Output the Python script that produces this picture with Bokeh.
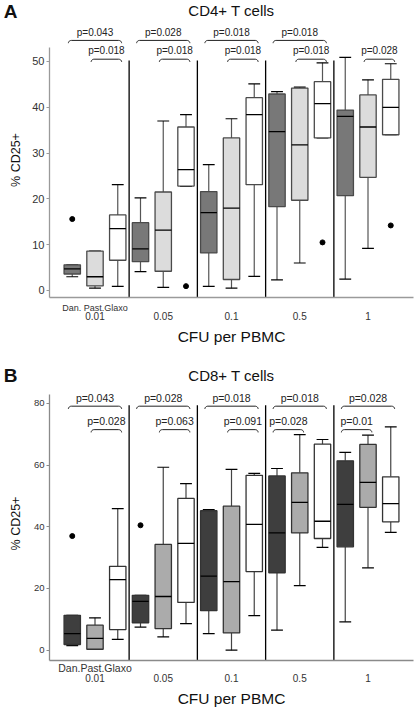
import math
from bokeh.plotting import figure
from bokeh.models import LinearAxis, FixedTicker, Range1d
from bokeh.layouts import column
from bokeh.embed import file_html
from bokeh.resources import INLINE
from bokeh.core.properties import value

FONT = "Liberation Sans"

doses = ["0.01", "0.05", "0.1", "0.5", "1"]
vaccines = ["Dan.", "Past.", "Glaxo"]

# ---- Panel A: CD4+ T cells (order: dose by dose, Dan./Past./Glaxo) ----
cd4_low = [3.0, 0.5, 0.9, 4.1, 0.7, 22.7, 0.9, 0.5, 3.1, 2.3, 6.0, 33.3, 2.5, 9.2, 34.0]
cd4_q1 = [3.6, 1.0, 6.6, 6.3, 4.2, 22.8, 8.2, 2.4, 23.1, 18.3, 19.7, 33.3, 20.7, 24.7, 34.0]
cd4_med = [4.7, 3.0, 13.5, 9.1, 13.2, 26.4, 17.0, 18.0, 38.4, 34.7, 31.8, 40.8, 38.0, 35.7, 40.0]
cd4_q3 = [5.6, 8.6, 16.5, 14.8, 21.5, 35.7, 21.6, 33.3, 42.1, 42.9, 44.2, 45.6, 39.4, 42.7, 46.1]
cd4_high = [5.6, 8.6, 23.1, 20.2, 37.0, 38.4, 27.5, 37.5, 45.1, 43.4, 44.4, 49.7, 50.9, 46.0, 49.5]
cd4_out_box = [0, 5, 11, 14]
cd4_out_val = [15.6, 0.95, 10.5, 14.2]
cd4_br_dose = [0, 0, 1, 1, 2, 2, 3, 3, 4]
cd4_br_from = [0, 1, 0, 1, 0, 1, 0, 1, 1]
cd4_br_to = [2, 2, 2, 2, 2, 2, 2, 2, 2]
cd4_br_upper = [1, 0, 1, 0, 1, 0, 1, 0, 0]
cd4_br_p = ["p=0.043", "p=0.018", "p=0.028", "p=0.018", "p=0.018", "p=0.018",
            "p=0.018", "p=0.018", "p=0.028"]
cd4_yticks = [0, 10, 20, 30, 40, 50]

# ---- Panel B: CD8+ T cells ----
cd8_low = [1.5, 0.3, 3.5, 7.5, 4.3, 8.6, 5.4, 0.0, 11.2, 6.5, 20.9, 33.3, 9.2, 26.7, 38.2]
cd8_q1 = [1.85, 0.3, 6.7, 8.9, 7.0, 15.5, 12.8, 5.6, 25.5, 25.1, 38.0, 36.2, 33.5, 46.3, 41.6]
cd8_med = [5.4, 3.8, 22.9, 15.8, 17.4, 34.6, 24.0, 22.2, 40.8, 38.0, 47.9, 41.8, 47.3, 54.4, 47.5]
cd8_q3 = [11.3, 8.1, 27.2, 17.8, 34.3, 49.2, 45.2, 46.7, 56.7, 56.5, 57.5, 66.8, 61.4, 66.7, 56.2]
cd8_high = [11.3, 10.5, 45.9, 17.8, 59.3, 54.0, 45.6, 58.6, 57.3, 58.9, 69.9, 68.3, 64.1, 69.7, 72.4]
cd8_out_box = [0, 3]
cd8_out_val = [37.0, 40.5]
cd8_br_dose = [0, 0, 1, 1, 2, 2, 3, 3, 4, 4]
cd8_br_from = [0, 1, 0, 1, 0, 1, 0, 0, 0, 0]
cd8_br_to = [2, 2, 2, 2, 2, 2, 2, 1, 2, 1]
cd8_br_upper = [1, 0, 1, 0, 1, 0, 1, 0, 1, 0]
cd8_br_p = ["p=0.043", "p=0.028", "p=0.028", "p=0.063", "p=0.018", "p=0.091",
            "p=0.018", "p=0.028", "p=0.028", "p=0.01"]
cd8_yticks = [0, 20, 40, 60, 80]

W = 416
LEFT = 48
RIGHT = 3


def make_head(letter, title, height, ymid):
    h = figure(width=W, height=height, output_backend="svg", toolbar_location=None,
               x_range=Range1d(-1, 15), y_range=Range1d(0, height),
               x_axis_type=None, y_axis_type=None,
               min_border_left=LEFT, min_border_right=RIGHT, min_border_top=0, min_border_bottom=0)
    h.outline_line_color = None
    la = LinearAxis(ticker=FixedTicker(ticks=[ymid]), major_label_overrides={ymid: letter})
    la.axis_line_color = None
    la.major_tick_line_color = None
    la.minor_tick_line_color = None
    la.major_tick_out = 0
    la.major_tick_in = 0
    la.major_label_standoff = 32
    la.major_label_text_font = FONT
    la.major_label_text_font_size = "19px"
    la.major_label_text_font_style = "bold"
    la.major_label_text_color = "#111111"
    h.add_layout(la, "left")
    h.text(x=[7], y=[ymid], text=[title], text_align="center", text_baseline="middle",
           text_font=value(FONT), text_font_size="15px", text_color="#111111")
    return h


def make_panel(low, q1, med, q3, high, out_box, out_val,
               br_dose, br_from, br_to, br_upper, br_p, yticks, cfg):
    p = figure(width=W, height=cfg["height"], output_backend="svg", toolbar_location=None,
               x_range=Range1d(-1, 15), y_range=Range1d(cfg["ymin"], cfg["ymax"]),
               x_axis_type=None, y_axis_type=None,
               min_border_left=LEFT, min_border_right=RIGHT,
               min_border_top=0, min_border_bottom=cfg["bottom"])
    p.outline_line_color = None

    n = len(med)
    xs = [i for i in range(n)]
    fills = [cfg["fills"][i % 3] for i in range(n)]
    bw, cw, mw = 0.72, 0.52, 0.36

    # whiskers and caps
    p.segment(x0=xs, y0=q3, x1=xs, y1=high, line_color=cfg["whisk"], line_width=1.2)
    p.segment(x0=xs, y0=q1, x1=xs, y1=low, line_color=cfg["whisk"], line_width=1.2)
    p.segment(x0=[x - cw / 2 for x in xs], y0=high, x1=[x + cw / 2 for x in xs], y1=high,
              line_color="black", line_width=1.2)
    p.segment(x0=[x - cw / 2 for x in xs], y0=low, x1=[x + cw / 2 for x in xs], y1=low,
              line_color="black", line_width=1.2)
    # boxes and medians
    p.vbar(x=xs, width=bw, bottom=q1, top=q3, fill_color=fills,
           line_color=cfg["boxline"], line_width=1.3)
    p.segment(x0=[x - mw for x in xs], y0=med, x1=[x + mw for x in xs], y1=med,
              line_color="black", line_width=1.3)
    # outliers
    p.scatter(x=[xs[b] for b in out_box], y=out_val, size=5, color="black")

    # separators between doses
    seps = [3 * k + 2.5 for k in range(len(doses) - 1)]
    p.segment(x0=seps, y0=[cfg["ymin"]] * len(seps), x1=seps, y1=[cfg["sep_top"]] * len(seps),
              line_color="black", line_width=1.3)

    # significance brackets
    bxs, bys, tx, ty = [], [], [], []
    d, hh = cfg["drop"], 0.13
    angs = [math.pi * k / 12 for k in range(7)]
    for dd, f, t, up in zip(br_dose, br_from, br_to, br_upper):
        x0 = 3 * dd + f - 0.17
        x1 = 3 * dd + t + 0.17
        y = cfg["br_y"][up]
        left = [(x0 + hh - hh * math.cos(a), y - d + d * math.sin(a)) for a in angs]
        right = [(x1 - hh + hh * math.cos(a), y - d + d * math.sin(a)) for a in reversed(angs)]
        pts = left + right
        bxs.append([q[0] for q in pts])
        bys.append([q[1] for q in pts])
        tx.append((x0 + x1) / 2)
        ty.append(cfg["txt_y"][up])
    p.multi_line(xs=bxs, ys=bys, line_color="#222222", line_width=1)
    p.text(x=tx, y=ty, text=br_p, text_align="center", text_baseline="middle",
           text_font=value(FONT), text_font_size=cfg["pfont"], text_color="#222222")

    # y axis with ticks
    ya = LinearAxis(ticker=FixedTicker(ticks=yticks), bounds=(cfg["ymin"], cfg["ytop"]))
    ya.major_tick_out = 3
    ya.major_tick_in = 0
    ya.minor_tick_out = 0
    ya.minor_tick_in = 0
    ya.major_label_standoff = 2
    ya.axis_line_color = cfg["axis_color"]
    ya.axis_line_width = 1.3
    ya.major_tick_line_color = cfg["axis_color"]
    ya.major_label_text_font = FONT
    ya.major_label_text_font_size = cfg["yfont"]
    ya.major_label_text_color = "#333333"
    p.add_layout(ya, "left")
    # y axis title
    yl = LinearAxis(ticker=FixedTicker(ticks=[]), bounds=cfg["ylab_bounds"], axis_label="% CD25+")
    yl.axis_line_color = None
    yl.major_tick_line_color = None
    yl.minor_tick_line_color = None
    yl.axis_label_standoff = cfg["ylab_standoff"]
    yl.axis_label_text_font = FONT
    yl.axis_label_text_font_size = "12.5px"
    yl.axis_label_text_font_style = "normal"
    yl.axis_label_text_color = "#111111"
    p.add_layout(yl, "left")

    # x axis: vaccine names row
    centers = [3 * k + 1 for k in range(len(doses))]
    xa = LinearAxis(ticker=FixedTicker(ticks=[centers[0]]),
                    major_label_overrides={centers[0]: cfg["vac_label"]})
    xa.major_tick_out = 0
    xa.major_tick_in = 0
    xa.minor_tick_out = 0
    xa.minor_tick_in = 0
    xa.major_label_standoff = cfg["vac_standoff"]
    xa.axis_line_color = cfg["axis_color"]
    xa.axis_line_width = 1.3
    xa.major_label_text_font = FONT
    xa.major_label_text_font_size = cfg["vacfont"]
    xa.major_label_text_color = "#333333"
    p.add_layout(xa, "below")
    # x axis: doses row + title
    xb = LinearAxis(ticker=FixedTicker(ticks=centers),
                    major_label_overrides={c: lab for c, lab in zip(centers, doses)},
                    axis_label="CFU per PBMC", bounds=cfg["xlab_bounds"])
    xb.axis_line_color = None
    xb.major_tick_line_color = None
    xb.minor_tick_line_color = None
    xb.major_tick_out = 0
    xb.major_tick_in = 0
    xb.major_label_standoff = cfg["dose_standoff"]
    xb.major_label_text_font = FONT
    xb.major_label_text_font_size = "10px"
    xb.major_label_text_color = "#333333"
    xb.axis_label_standoff = cfg["xlab_standoff"]
    xb.axis_label_text_font = FONT
    xb.axis_label_text_font_size = "15.5px"
    xb.axis_label_text_font_style = "normal"
    xb.axis_label_text_color = "#111111"
    p.add_layout(xb, "below")
    return p


cfgA = dict(height=335, ymin=-1.53, ymax=58.51, ytop=53.0, bottom=60,
            fills=["#787878", "#dcdcdc", "#ffffff"], whisk="#555555", boxline="#4a4a4a",
            sep_top=50.2, drop=0.6, br_y=[50.5, 54.6], txt_y=[52.3, 56.3], pfont="10px",
            axis_color="#9a9a9a", yfont="11px",
            ylab_bounds=(0.5, 57.1), ylab_standoff=7, vac_label="Dan. Past.Glaxo",
            vac_standoff=5, vacfont="9px", dose_standoff=-4,
            xlab_bounds=(0.6, 15.0), xlab_standoff=5)
cfgB = dict(height=324, ymin=-3.34, ymax=85.48, ytop=83.0, bottom=50,
            fills=["#3e3e3e", "#ababab", "#ffffff"], whisk="#444444", boxline="#333333",
            sep_top=79.4, drop=0.9, br_y=[71.5, 79.1], txt_y=[74.2, 81.9], pfont="10.5px",
            axis_color="#8a8a8a", yfont="9.5px",
            ylab_bounds=(-3.0, 83.6), ylab_standoff=8, vac_label="Dan.Past.Glaxo",
            vac_standoff=1, vacfont="10.5px", dose_standoff=-3,
            xlab_bounds=(-1.0, 14.08), xlab_standoff=5)

hA = make_head("A", "CD4+ T cells", 22, 12)
pA = make_panel(cd4_low, cd4_q1, cd4_med, cd4_q3, cd4_high,
                cd4_out_box, cd4_out_val, cd4_br_dose, cd4_br_from, cd4_br_to,
                cd4_br_upper, cd4_br_p, cd4_yticks, cfgA)
hB = make_head("B", "CD8+ T cells", 29, 11)
pB = make_panel(cd8_low, cd8_q1, cd8_med, cd8_q3, cd8_high,
                cd8_out_box, cd8_out_val, cd8_br_dose, cd8_br_from, cd8_br_to,
                cd8_br_upper, cd8_br_p, cd8_yticks, cfgB)

layout = column(hA, pA, hB, pB, spacing=0)
open("out.html", "w").write(file_html(layout, INLINE))
